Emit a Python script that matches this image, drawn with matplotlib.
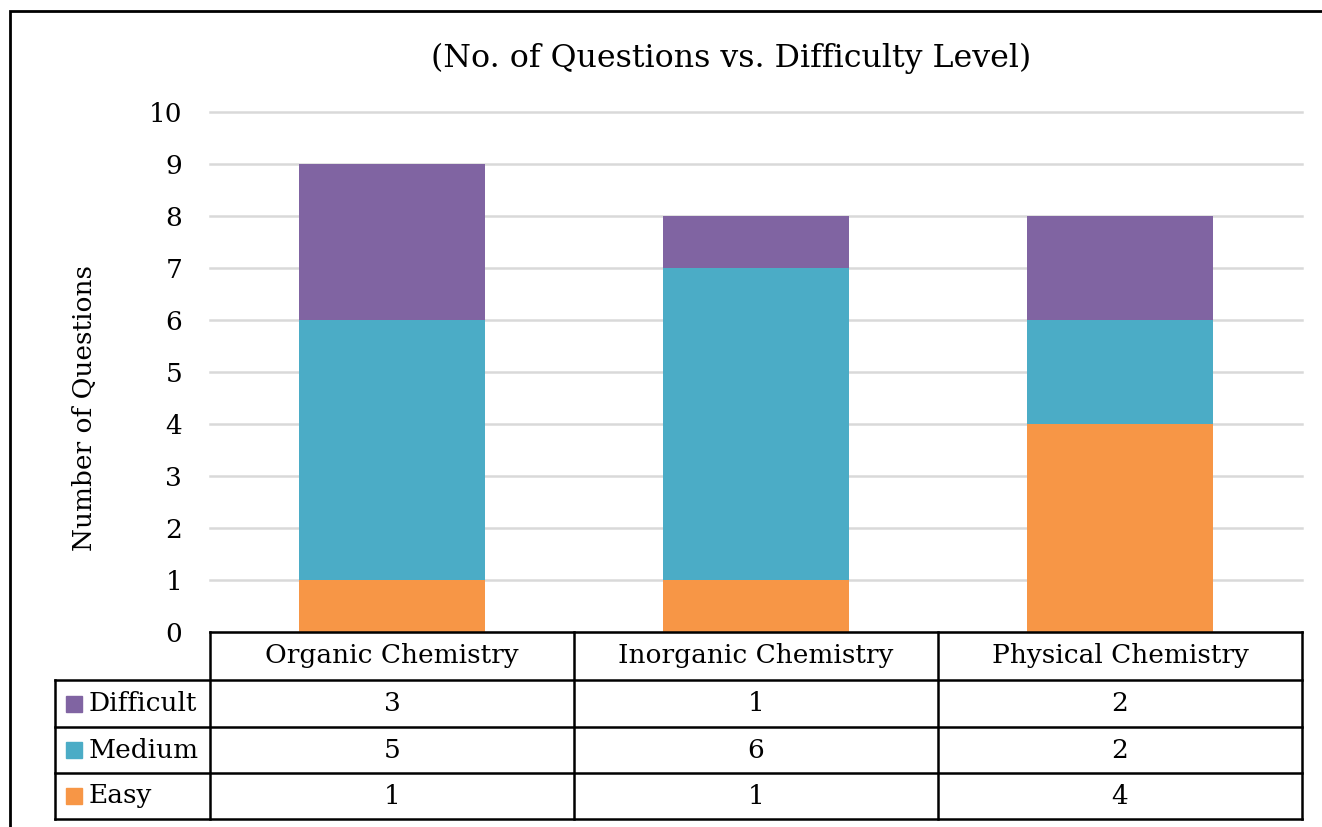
import matplotlib.pyplot as plt
from matplotlib.patches import Rectangle
from matplotlib.lines import Line2D

categories = ['Organic Chemistry', 'Inorganic Chemistry', 'Physical Chemistry']
levels = ['Difficult', 'Medium', 'Easy']
easy = [1, 1, 4]
medium = [5, 6, 2]
difficult = [3, 1, 2]
colors = {'Easy': '#F79646', 'Medium': '#4BACC6', 'Difficult': '#8064A2'}
values = {'Easy': easy, 'Medium': medium, 'Difficult': difficult}

plt.rcParams['font.family'] = ['DejaVu Serif']
W, H = 1322, 827
fig = plt.figure(figsize=(W / 100, H / 100), dpi=100)

ax = fig.add_axes([210 / W, 1 - 632 / H, 1092 / W, 520 / H])

x = list(range(len(categories)))
bottom = [0] * len(categories)
for lvl in ['Easy', 'Medium', 'Difficult']:
    ax.bar(x, values[lvl], bottom=bottom, width=0.513, color=colors[lvl], zorder=3)
    bottom = [b + v for b, v in zip(bottom, values[lvl])]

ax.set_xlim(-0.5, len(categories) - 0.5)
ax.set_ylim(0, 10)
ax.set_yticks(range(0, 11))
ax.yaxis.grid(True, color='#d9d9d9', linewidth=1.8, zorder=0)
for gl in ax.get_ygridlines():
    gl.set_clip_on(False)
ax.tick_params(axis='y', length=0, labelsize=19, pad=20)
ax.set_xticks([])
for s in ax.spines.values():
    s.set_visible(False)
ax.set_ylabel('Number of Questions', fontsize=19)
ax.yaxis.set_label_coords(-113 / 1092, 0.43)
fig.text(731 / W, 1 - 58 / H, '(No. of Questions vs. Difficulty Level)', fontsize=22.8,
         ha='center', va='center')

# data table below axes
def fy(py):
    return 1 - py / H

def fx(px):
    return px / W

row_lines = [632, 680, 727, 773, 819]
col_w = 1092 / len(categories)
col_lines = [210 + i * col_w for i in range(len(categories) + 1)]
lw = 1.8
fig.add_artist(Line2D([fx(210), fx(1302)], [fy(632), fy(632)], color='black', lw=lw))
for py in row_lines[1:]:
    fig.add_artist(Line2D([fx(55), fx(1302)], [fy(py), fy(py)], color='black', lw=lw))
for px in col_lines:
    fig.add_artist(Line2D([fx(px), fx(px)], [fy(632), fy(819)], color='black', lw=lw))
fig.add_artist(Line2D([fx(55), fx(55)], [fy(680), fy(819)], color='black', lw=lw))

for i, cat in enumerate(categories):
    cx = (col_lines[i] + col_lines[i + 1]) / 2
    fig.text(fx(cx), fy((row_lines[0] + row_lines[1]) / 2), cat, fontsize=19,
             ha='center', va='center')
    for r, lvl in enumerate(levels):
        cy = (row_lines[r + 1] + row_lines[r + 2]) / 2
        fig.text(fx(cx), fy(cy), str(values[lvl][i]), fontsize=19,
                 ha='center', va='center')

for r, lvl in enumerate(levels):
    cy = (row_lines[r + 1] + row_lines[r + 2]) / 2
    fig.add_artist(Rectangle((fx(66), fy(cy + 8)), 16 / W, 16 / H,
                             color=colors[lvl], transform=fig.transFigure))
    fig.text(fx(89), fy(cy), lvl, fontsize=19, ha='left', va='center')

# outer frame
fig.add_artist(Rectangle((fx(10), -0.05), 1.1, fy(11) + 0.05, fill=False,
                         edgecolor='black', lw=2, transform=fig.transFigure))

fig.savefig('out.png', dpi=100)
